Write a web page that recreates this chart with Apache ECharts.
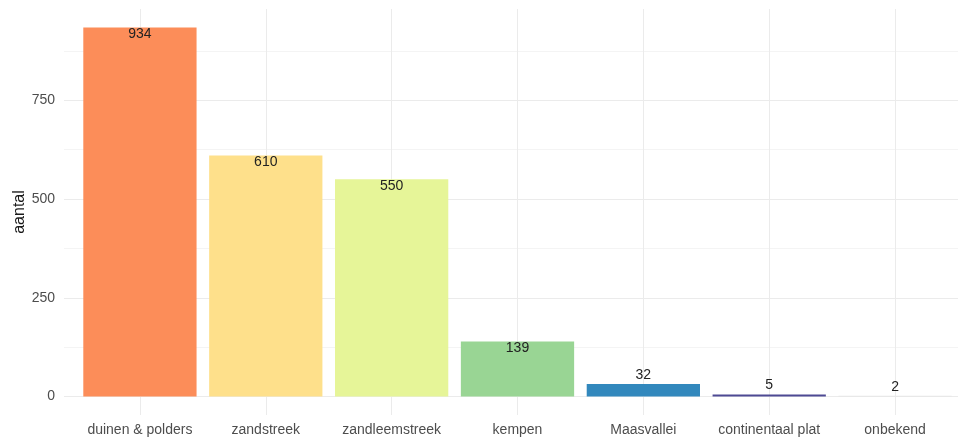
<!DOCTYPE html>
<html>
<head>
<meta charset="utf-8">
<title>aantal per regio</title>
<script src="https://cdn.jsdelivr.net/npm/echarts@6/dist/echarts.min.js"></script>
<style>
  html, body { margin: 0; padding: 0; background: #ffffff; }
  #chart { width: 958px; height: 437px; }
</style>
</head>
<body>
<div id="chart"></div>
<script>
// Regions and their counts
const categories = ['duinen & polders', 'zandstreek', 'zandleemstreek', 'kempen', 'Maasvallei', 'continentaal plat', 'onbekend'];
const counts = [934, 610, 550, 139, 32, 5, 2];
const barColors = ['#FC8D59', '#FEE08B', '#E6F598', '#99D594', '#3288BD', '#4E4A94', '#E6E6E6'];

// Value axis ticks: labelled majors and the minor lines between them
const yLabelTicks = [0, 250, 500, 750];
const yGridTicks = [0, 125, 250, 375, 500, 625, 750, 875];

// Panel range padded 5% past the data, like a default plot expansion
const yMaxData = Math.max(...counts);
const yPad = yMaxData * 0.05;
const yMin = -yPad;
const yMax = yMaxData + yPad;

const FONT = '"Liberation Sans", Arial, Helvetica, sans-serif';
const PANEL_TOP = 9;
const PANEL_BOTTOM = 22;

const chart = echarts.init(document.getElementById('chart'), null, { renderer: 'canvas' });

const option = {
  backgroundColor: '#ffffff',
  animation: false,
  grid: [
    // panel holding the y axis and horizontal grid lines
    { left: 64, right: 0, top: PANEL_TOP, bottom: PANEL_BOTTOM },
    // band area holding the bars
    { left: 77, right: -1, top: PANEL_TOP, bottom: PANEL_BOTTOM }
  ],
  xAxis: [
    { gridIndex: 0, type: 'value', min: 0, max: 1, show: false },
    {
      gridIndex: 1,
      type: 'category',
      data: categories,
      boundaryGap: true,
      axisLine: { show: false },
      axisTick: { show: false },
      splitLine: { show: false },
      axisLabel: { color: '#4d4d4d', fontSize: 14, fontFamily: FONT, margin: 8, interval: 0 }
    },
    {
      // vertical grid lines through the category centres
      gridIndex: 1,
      type: 'value',
      min: -0.5,
      max: categories.length - 0.5,
      axisLine: { show: false },
      axisLabel: { show: false },
      axisTick: { show: false, customValues: categories.map((_, i) => i) },
      splitLine: { show: true, lineStyle: { color: '#ebebeb', width: 1 } }
    }
  ],
  yAxis: [
    {
      gridIndex: 0,
      type: 'value',
      min: yMin,
      max: yMax,
      name: 'aantal',
      nameLocation: 'middle',
      nameGap: 36,
      nameMoveOverlap: false,
      nameTextStyle: { color: '#1a1a1a', fontSize: 16, fontFamily: FONT },
      axisLine: { show: false },
      axisTick: { show: false, customValues: yGridTicks },
      axisLabel: { color: '#4d4d4d', fontSize: 14, fontFamily: FONT, margin: 9, customValues: yLabelTicks },
      splitLine: { show: true, lineStyle: { color: ['#ebebeb', '#f4f4f4'], width: 1 } }
    },
    { gridIndex: 1, type: 'value', min: yMin, max: yMax, show: false }
  ],
  series: [
    {
      type: 'bar',
      xAxisIndex: 1,
      yAxisIndex: 1,
      barCategoryGap: '10%',
      data: counts.map((v, i) => ({
        value: v,
        itemStyle: { color: barColors[i] },
        label: v > 100
          ? { position: 'insideTop', distance: 0 }
          : { position: 'top', distance: 2 }
      })),
      label: {
        show: true,
        color: '#222222',
        fontSize: 14,
        fontFamily: FONT
      }
    }
  ]
};

chart.setOption(option);
</script>
</body>
</html>
